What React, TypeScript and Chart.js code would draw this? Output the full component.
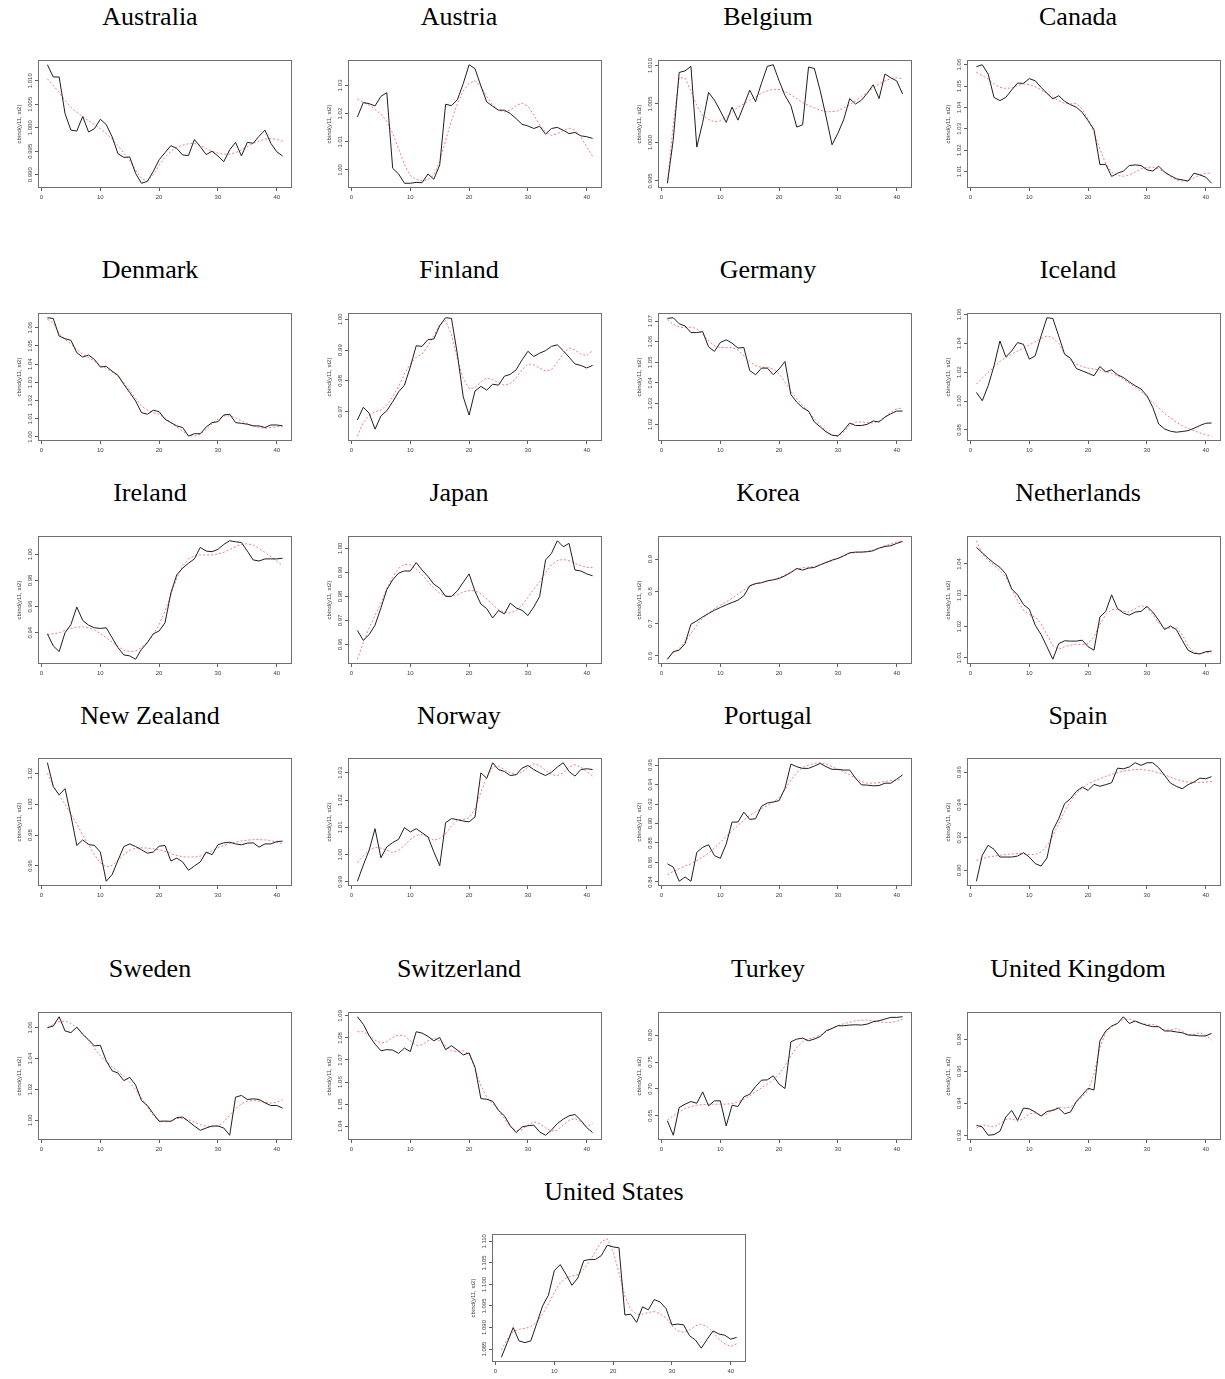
import React, { useEffect, useRef } from "react";
import { Chart, registerables } from "chart.js";

Chart.register(...registerables);

// ---------- shared axis data ----------
const periods = [1, 2, 3, 4, 5, 6, 7, 8, 9, 10, 11, 12, 13, 14, 15, 16, 17, 18, 19, 20, 21, 22, 23, 24, 25, 26, 27, 28, 29, 30, 31, 32, 33, 34, 35, 36, 37, 38, 39, 40, 41];
const xTickValues = [0, 10, 20, 30, 40];
const yAxisTitle = "cbind(y11, st2)";

// ---------- series (black = observed, red dashed = smoothed) ----------
const australiaObserved = [1.0134, 1.0108, 1.0108, 1.0030, 0.9995, 0.9993, 1.0024, 0.9991, 0.9998, 1.0018, 1.0007, 0.9981, 0.9945, 0.9937, 0.9938, 0.9903, 0.9882, 0.9886, 0.9907, 0.9932, 0.9947, 0.9962, 0.9956, 0.9942, 0.9941, 0.9975, 0.9960, 0.9943, 0.9950, 0.9940, 0.9928, 0.9953, 0.9969, 0.9940, 0.9969, 0.9967, 0.9982, 0.9995, 0.9967, 0.9949, 0.9940];
const australiaSmoothed = [1.0104, 1.0090, 1.0075, 1.0058, 1.0043, 1.0033, 1.0024, 1.0015, 1.0007, 0.9998, 0.9988, 0.9976, 0.9962, 0.9946, 0.9930, 0.9910, 0.9892, 0.9887, 0.9900, 0.9920, 0.9937, 0.9950, 0.9958, 0.9963, 0.9966, 0.9967, 0.9962, 0.9956, 0.9950, 0.9946, 0.9944, 0.9944, 0.9947, 0.9953, 0.9960, 0.9967, 0.9972, 0.9976, 0.9977, 0.9975, 0.9971];
const australiaTicks = ["0.990", "0.995", "1.000", "1.005", "1.010"];

const austriaObserved = [1.0188, 1.0239, 1.0235, 1.0227, 1.0261, 1.0274, 1.0006, 0.9986, 0.9953, 0.9953, 0.9956, 0.9955, 0.9986, 0.9967, 1.0018, 1.0233, 1.0228, 1.0249, 1.0306, 1.0373, 1.0359, 1.0298, 1.0241, 1.0226, 1.0212, 1.0212, 1.0200, 1.0182, 1.0162, 1.0156, 1.0147, 1.0155, 1.0127, 1.0147, 1.0151, 1.0141, 1.0129, 1.0133, 1.0121, 1.0118, 1.0112];
const austriaSmoothed = [1.0251, 1.0240, 1.0230, 1.0215, 1.0198, 1.0172, 1.0130, 1.0075, 1.0020, 0.9980, 0.9966, 0.9962, 0.9966, 0.9982, 1.0030, 1.0105, 1.0175, 1.0235, 1.0280, 1.0308, 1.0316, 1.0295, 1.0260, 1.0229, 1.0212, 1.0206, 1.0212, 1.0228, 1.0237, 1.0226, 1.0195, 1.0160, 1.0135, 1.0123, 1.0128, 1.0140, 1.0148, 1.0141, 1.0118, 1.0082, 1.0049];
const austriaTicks = ["1.00", "1.01", "1.02", "1.03"];

const belgiumObserved = [0.9947, 1.0004, 1.0091, 1.0093, 1.0099, 0.9994, 1.0026, 1.0065, 1.0055, 1.0041, 1.0026, 1.0046, 1.0029, 1.0048, 1.0068, 1.0053, 1.0077, 1.0099, 1.0101, 1.0080, 1.0061, 1.0048, 1.0020, 1.0023, 1.0098, 1.0096, 1.0067, 1.0033, 0.9997, 1.0012, 1.0030, 1.0057, 1.0050, 1.0055, 1.0064, 1.0075, 1.0057, 1.0089, 1.0084, 1.0080, 1.0063];
const belgiumSmoothed = [0.9947, 1.0024, 1.0084, 1.0084, 1.0067, 1.0048, 1.0035, 1.0030, 1.0027, 1.0028, 1.0033, 1.0039, 1.0046, 1.0050, 1.0055, 1.0059, 1.0064, 1.0067, 1.0069, 1.0069, 1.0066, 1.0062, 1.0057, 1.0052, 1.0048, 1.0045, 1.0042, 1.0040, 1.0040, 1.0041, 1.0045, 1.0049, 1.0054, 1.0060, 1.0065, 1.0071, 1.0076, 1.0080, 1.0083, 1.0084, 1.0083];
const belgiumTicks = ["0.995", "1.000", "1.005", "1.010"];

const canadaObserved = [1.0591, 1.0600, 1.0556, 1.0447, 1.0432, 1.0447, 1.0482, 1.0514, 1.0513, 1.0535, 1.0525, 1.0494, 1.0466, 1.0440, 1.0455, 1.0429, 1.0413, 1.0401, 1.0377, 1.0338, 1.0296, 1.0133, 1.0133, 1.0077, 1.0092, 1.0102, 1.0128, 1.0131, 1.0128, 1.0108, 1.0102, 1.0125, 1.0097, 1.0081, 1.0066, 1.0061, 1.0055, 1.0092, 1.0084, 1.0074, 1.0045];
const canadaSmoothed = [1.0564, 1.0549, 1.0533, 1.0510, 1.0494, 1.0489, 1.0491, 1.0503, 1.0510, 1.0507, 1.0497, 1.0482, 1.0466, 1.0447, 1.0432, 1.0419, 1.0416, 1.0419, 1.0393, 1.0346, 1.0284, 1.0206, 1.0136, 1.0097, 1.0081, 1.0078, 1.0084, 1.0097, 1.0112, 1.0120, 1.0120, 1.0112, 1.0097, 1.0077, 1.0061, 1.0055, 1.0058, 1.0070, 1.0084, 1.0092, 1.0092];
const canadaTicks = ["1.01", "1.02", "1.03", "1.04", "1.05", "1.06"];

const denmarkObserved = [1.0655, 1.0651, 1.0554, 1.0540, 1.0531, 1.0463, 1.0439, 1.0450, 1.0426, 1.0384, 1.0388, 1.0362, 1.0339, 1.0289, 1.0244, 1.0198, 1.0134, 1.0125, 1.0147, 1.0139, 1.0097, 1.0079, 1.0061, 1.0052, 1.0005, 1.0018, 1.0018, 1.0055, 1.0079, 1.0084, 1.0121, 1.0125, 1.0079, 1.0075, 1.0070, 1.0061, 1.0061, 1.0052, 1.0066, 1.0066, 1.0061];
const denmarkSmoothed = [1.0646, 1.0627, 1.0567, 1.0536, 1.0512, 1.0481, 1.0454, 1.0435, 1.0417, 1.0393, 1.0377, 1.0357, 1.0333, 1.0298, 1.0256, 1.0212, 1.0170, 1.0147, 1.0134, 1.0125, 1.0106, 1.0079, 1.0055, 1.0033, 1.0009, 1.0004, 1.0015, 1.0042, 1.0073, 1.0097, 1.0116, 1.0116, 1.0106, 1.0088, 1.0073, 1.0061, 1.0052, 1.0048, 1.0052, 1.0057, 1.0061];
const denmarkTicks = ["1.00", "1.01", "1.02", "1.03", "1.04", "1.05", "1.06"];

const finlandObserved = [0.9673, 0.9714, 0.9695, 0.9643, 0.9686, 0.9703, 0.9732, 0.9764, 0.9786, 0.9845, 0.9914, 0.9912, 0.9934, 0.9936, 0.9979, 1.0005, 1.0003, 0.9887, 0.9748, 0.9689, 0.9767, 0.9782, 0.9770, 0.9789, 0.9786, 0.9815, 0.9821, 0.9836, 0.9868, 0.9896, 0.9879, 0.9890, 0.9898, 0.9912, 0.9917, 0.9898, 0.9877, 0.9855, 0.9850, 0.9842, 0.9850];
const finlandSmoothed = [0.9620, 0.9665, 0.9686, 0.9700, 0.9705, 0.9721, 0.9748, 0.9782, 0.9823, 0.9855, 0.9877, 0.9887, 0.9914, 0.9946, 0.9984, 0.9995, 0.9950, 0.9871, 0.9807, 0.9775, 0.9778, 0.9796, 0.9810, 0.9804, 0.9793, 0.9786, 0.9791, 0.9810, 0.9836, 0.9855, 0.9852, 0.9841, 0.9832, 0.9836, 0.9861, 0.9887, 0.9907, 0.9900, 0.9887, 0.9882, 0.9898];
const finlandTicks = ["0.97", "0.98", "0.99", "1.00"];

const germanyObserved = [1.0713, 1.0716, 1.0687, 1.0676, 1.0644, 1.0644, 1.0649, 1.0575, 1.0553, 1.0596, 1.0609, 1.0593, 1.0569, 1.0572, 1.0460, 1.0440, 1.0472, 1.0472, 1.0440, 1.0468, 1.0504, 1.0344, 1.0307, 1.0280, 1.0264, 1.0211, 1.0187, 1.0163, 1.0147, 1.0144, 1.0171, 1.0206, 1.0194, 1.0194, 1.0200, 1.0216, 1.0211, 1.0235, 1.0251, 1.0264, 1.0264];
const germanySmoothed = [1.0708, 1.0684, 1.0671, 1.0668, 1.0671, 1.0663, 1.0636, 1.0604, 1.0580, 1.0572, 1.0572, 1.0572, 1.0559, 1.0532, 1.0504, 1.0484, 1.0476, 1.0476, 1.0468, 1.0444, 1.0404, 1.0360, 1.0323, 1.0291, 1.0259, 1.0227, 1.0195, 1.0168, 1.0147, 1.0142, 1.0163, 1.0195, 1.0211, 1.0211, 1.0208, 1.0206, 1.0216, 1.0235, 1.0259, 1.0275, 1.0279];
const germanyTicks = ["1.02", "1.03", "1.04", "1.05", "1.06", "1.07"];

const icelandObserved = [1.0060, 1.0002, 1.0106, 1.0244, 1.0416, 1.0306, 1.0347, 1.0405, 1.0393, 1.0290, 1.0313, 1.0451, 1.0577, 1.0572, 1.0451, 1.0324, 1.0297, 1.0225, 1.0209, 1.0193, 1.0175, 1.0239, 1.0202, 1.0216, 1.0182, 1.0163, 1.0133, 1.0106, 1.0083, 1.0037, 0.9956, 0.9841, 0.9807, 0.9791, 0.9784, 0.9789, 0.9795, 0.9811, 0.9830, 0.9846, 0.9848];
const icelandSmoothed = [1.0117, 1.0159, 1.0198, 1.0237, 1.0274, 1.0301, 1.0324, 1.0347, 1.0366, 1.0389, 1.0411, 1.0432, 1.0451, 1.0439, 1.0398, 1.0329, 1.0283, 1.0255, 1.0239, 1.0228, 1.0221, 1.0214, 1.0205, 1.0191, 1.0175, 1.0152, 1.0124, 1.0094, 1.0064, 1.0030, 0.9991, 0.9952, 0.9915, 0.9883, 0.9853, 0.9830, 0.9811, 0.9795, 0.9779, 0.9768, 0.9756];
const icelandTicks = ["0.98", "1.00", "1.02", "1.04", "1.06"];

const irelandObserved = [0.9392, 0.9299, 0.9256, 0.9400, 0.9463, 0.9597, 0.9494, 0.9458, 0.9438, 0.9433, 0.9438, 0.9362, 0.9286, 0.9230, 0.9223, 0.9197, 0.9273, 0.9324, 0.9392, 0.9413, 0.9476, 0.9704, 0.9843, 0.9894, 0.9932, 0.9965, 1.0053, 1.0025, 1.0020, 1.0038, 1.0076, 1.0104, 1.0096, 1.0091, 1.0025, 0.9957, 0.9949, 0.9965, 0.9965, 0.9965, 0.9970];
const irelandSmoothed = [0.9387, 0.9392, 0.9400, 0.9418, 0.9433, 0.9443, 0.9446, 0.9438, 0.9420, 0.9395, 0.9362, 0.9329, 0.9294, 0.9266, 0.9256, 0.9261, 0.9286, 0.9329, 0.9387, 0.9463, 0.9565, 0.9691, 0.9818, 0.9911, 0.9965, 0.9987, 0.9995, 0.9995, 0.9995, 1.0003, 1.0015, 1.0038, 1.0058, 1.0076, 1.0081, 1.0071, 1.0046, 1.0015, 0.9982, 0.9949, 0.9914];
const irelandTicks = ["0.94", "0.96", "0.98", "1.00"];

const japanObserved = [0.9658, 0.9617, 0.9641, 0.9680, 0.9752, 0.9828, 0.9869, 0.9897, 0.9906, 0.9906, 0.9941, 0.9910, 0.9883, 0.9851, 0.9834, 0.9800, 0.9800, 0.9823, 0.9859, 0.9894, 0.9821, 0.9768, 0.9749, 0.9710, 0.9741, 0.9727, 0.9772, 0.9752, 0.9742, 0.9720, 0.9756, 0.9800, 0.9952, 0.9979, 1.0032, 1.0007, 1.0021, 0.9910, 0.9906, 0.9894, 0.9886];
const japanSmoothed = [0.9538, 0.9607, 0.9669, 0.9721, 0.9772, 0.9834, 0.9879, 0.9917, 0.9934, 0.9931, 0.9914, 0.9890, 0.9862, 0.9834, 0.9814, 0.9803, 0.9800, 0.9807, 0.9818, 0.9825, 0.9823, 0.9811, 0.9790, 0.9766, 0.9745, 0.9734, 0.9731, 0.9741, 0.9763, 0.9796, 0.9830, 0.9862, 0.9899, 0.9931, 0.9949, 0.9954, 0.9949, 0.9938, 0.9928, 0.9921, 0.9920];
const japanTicks = ["0.96", "0.97", "0.98", "0.99", "1.00"];

const koreaObserved = [0.5898, 0.6135, 0.6177, 0.6384, 0.6983, 0.7087, 0.7211, 0.7314, 0.7418, 0.7500, 0.7583, 0.7656, 0.7728, 0.7862, 0.8173, 0.8245, 0.8266, 0.8328, 0.8359, 0.8400, 0.8483, 0.8586, 0.8710, 0.8659, 0.8721, 0.8741, 0.8824, 0.8897, 0.8969, 0.9021, 0.9103, 0.9196, 0.9217, 0.9217, 0.9228, 0.9259, 0.9341, 0.9393, 0.9414, 0.9486, 0.9548];
const koreaSmoothed = [0.5898, 0.6104, 0.6229, 0.6435, 0.6694, 0.6963, 0.7170, 0.7325, 0.7459, 0.7573, 0.7676, 0.7790, 0.7914, 0.8038, 0.8152, 0.8224, 0.8276, 0.8307, 0.8359, 0.8431, 0.8504, 0.8597, 0.8690, 0.8731, 0.8752, 0.8772, 0.8824, 0.8886, 0.8948, 0.9021, 0.9093, 0.9176, 0.9207, 0.9217, 0.9238, 0.9279, 0.9341, 0.9414, 0.9465, 0.9527, 0.9569];
const koreaTicks = ["0.6", "0.7", "0.8", "0.9"];

const netherlandsObserved = [1.0453, 1.0435, 1.0418, 1.0402, 1.0389, 1.0368, 1.0320, 1.0301, 1.0270, 1.0255, 1.0204, 1.0174, 1.0135, 1.0095, 1.0145, 1.0154, 1.0153, 1.0153, 1.0156, 1.0135, 1.0124, 1.0230, 1.0248, 1.0301, 1.0257, 1.0243, 1.0236, 1.0246, 1.0248, 1.0264, 1.0246, 1.0220, 1.0190, 1.0201, 1.0190, 1.0156, 1.0124, 1.0114, 1.0112, 1.0119, 1.0121];
const netherlandsSmoothed = [1.0474, 1.0432, 1.0411, 1.0395, 1.0379, 1.0358, 1.0320, 1.0283, 1.0252, 1.0238, 1.0230, 1.0209, 1.0174, 1.0138, 1.0127, 1.0135, 1.0140, 1.0143, 1.0142, 1.0145, 1.0167, 1.0207, 1.0238, 1.0254, 1.0255, 1.0248, 1.0246, 1.0257, 1.0267, 1.0260, 1.0238, 1.0211, 1.0195, 1.0195, 1.0196, 1.0174, 1.0138, 1.0117, 1.0113, 1.0117, 1.0114];
const netherlandsTicks = ["1.01", "1.02", "1.03", "1.04"];

const newZealandObserved = [1.0269, 1.0114, 1.0061, 1.0101, 0.9926, 0.9733, 0.9769, 0.9739, 0.9733, 0.9690, 0.9501, 0.9544, 0.9636, 0.9726, 0.9743, 0.9726, 0.9705, 0.9683, 0.9690, 0.9728, 0.9733, 0.9632, 0.9651, 0.9626, 0.9572, 0.9600, 0.9626, 0.9690, 0.9673, 0.9737, 0.9750, 0.9754, 0.9743, 0.9737, 0.9748, 0.9750, 0.9722, 0.9743, 0.9743, 0.9758, 0.9761];
const newZealandSmoothed = [1.0200, 1.0119, 1.0054, 1.0001, 0.9936, 0.9872, 0.9801, 0.9737, 0.9673, 0.9621, 0.9593, 0.9604, 0.9636, 0.9673, 0.9701, 0.9716, 0.9718, 0.9716, 0.9711, 0.9705, 0.9694, 0.9681, 0.9668, 0.9660, 0.9658, 0.9658, 0.9664, 0.9679, 0.9698, 0.9718, 0.9733, 0.9746, 0.9754, 0.9763, 0.9767, 0.9771, 0.9771, 0.9769, 0.9765, 0.9754, 0.9743];
const newZealandTicks = ["0.96", "0.98", "1.00", "1.02"];

const norwayObserved = [0.9902, 0.9961, 1.0016, 1.0095, 0.9988, 1.0028, 1.0044, 1.0056, 1.0099, 1.0083, 1.0095, 1.0080, 1.0065, 1.0010, 0.9959, 1.0117, 1.0132, 1.0128, 1.0123, 1.0120, 1.0138, 1.0300, 1.0280, 1.0337, 1.0312, 1.0305, 1.0290, 1.0293, 1.0317, 1.0327, 1.0312, 1.0300, 1.0290, 1.0302, 1.0321, 1.0337, 1.0305, 1.0288, 1.0312, 1.0315, 1.0312];
const norwaySmoothed = [0.9971, 0.9995, 1.0016, 1.0026, 1.0024, 1.0016, 1.0007, 1.0016, 1.0034, 1.0055, 1.0071, 1.0073, 1.0065, 1.0052, 1.0059, 1.0077, 1.0105, 1.0126, 1.0129, 1.0134, 1.0168, 1.0229, 1.0284, 1.0321, 1.0324, 1.0312, 1.0300, 1.0293, 1.0302, 1.0321, 1.0333, 1.0327, 1.0309, 1.0293, 1.0290, 1.0300, 1.0321, 1.0330, 1.0321, 1.0305, 1.0288];
const norwayTicks = ["0.99", "1.00", "1.01", "1.02", "1.03"];

const portugalObserved = [0.8586, 0.8552, 0.8407, 0.8451, 0.8407, 0.8704, 0.8755, 0.8782, 0.8670, 0.8643, 0.8789, 0.9015, 0.9015, 0.9117, 0.9042, 0.9049, 0.9177, 0.9211, 0.9221, 0.9235, 0.9363, 0.9610, 0.9583, 0.9566, 0.9566, 0.9590, 0.9617, 0.9583, 0.9556, 0.9556, 0.9549, 0.9549, 0.9465, 0.9397, 0.9394, 0.9387, 0.9390, 0.9414, 0.9414, 0.9455, 0.9499];
const portugalSmoothed = [0.8474, 0.8508, 0.8535, 0.8562, 0.8586, 0.8620, 0.8654, 0.8697, 0.8748, 0.8806, 0.8866, 0.8924, 0.8981, 0.9035, 0.9083, 0.9120, 0.9154, 0.9184, 0.9218, 0.9269, 0.9346, 0.9448, 0.9522, 0.9576, 0.9600, 0.9617, 0.9624, 0.9610, 0.9583, 0.9556, 0.9532, 0.9499, 0.9465, 0.9431, 0.9414, 0.9414, 0.9421, 0.9431, 0.9441, 0.9448, 0.9448];
const portugalTicks = ["0.84", "0.86", "0.88", "0.90", "0.92", "0.94", "0.96"];

const spainObserved = [0.8933, 0.9092, 0.9153, 0.9128, 0.9081, 0.9081, 0.9081, 0.9087, 0.9108, 0.9081, 0.9041, 0.9026, 0.9075, 0.9244, 0.9315, 0.9407, 0.9437, 0.9482, 0.9508, 0.9488, 0.9525, 0.9513, 0.9523, 0.9535, 0.9624, 0.9620, 0.9631, 0.9657, 0.9641, 0.9657, 0.9657, 0.9626, 0.9580, 0.9533, 0.9513, 0.9498, 0.9523, 0.9539, 0.9563, 0.9559, 0.9572];
const spainSmoothed = [0.9061, 0.9071, 0.9081, 0.9087, 0.9092, 0.9096, 0.9100, 0.9102, 0.9100, 0.9096, 0.9096, 0.9112, 0.9149, 0.9210, 0.9285, 0.9360, 0.9421, 0.9468, 0.9502, 0.9529, 0.9545, 0.9559, 0.9574, 0.9586, 0.9596, 0.9606, 0.9612, 0.9616, 0.9616, 0.9612, 0.9606, 0.9596, 0.9584, 0.9569, 0.9555, 0.9545, 0.9539, 0.9537, 0.9537, 0.9539, 0.9543];
const spainTicks = ["0.90", "0.92", "0.94", "0.96"];

const swedenObserved = [1.0600, 1.0611, 1.0671, 1.0579, 1.0568, 1.0604, 1.0557, 1.0521, 1.0482, 1.0486, 1.0386, 1.0321, 1.0306, 1.0257, 1.0278, 1.0229, 1.0128, 1.0096, 1.0043, 0.9993, 0.9995, 0.9993, 1.0017, 1.0021, 0.9993, 0.9963, 0.9935, 0.9950, 0.9963, 0.9963, 0.9950, 0.9903, 1.0150, 1.0161, 1.0135, 1.0139, 1.0135, 1.0113, 1.0096, 1.0096, 1.0079];
const swedenSmoothed = [1.0600, 1.0621, 1.0639, 1.0643, 1.0628, 1.0600, 1.0564, 1.0519, 1.0467, 1.0418, 1.0379, 1.0347, 1.0317, 1.0285, 1.0246, 1.0199, 1.0143, 1.0086, 1.0032, 1.0000, 0.9989, 0.9995, 1.0011, 1.0011, 1.0004, 0.9989, 0.9972, 0.9963, 0.9957, 0.9963, 0.9989, 1.0032, 1.0075, 1.0107, 1.0124, 1.0128, 1.0124, 1.0118, 1.0111, 1.0118, 1.0133];
const swedenTicks = ["1.00", "1.02", "1.04", "1.06"];

const switzerlandObserved = [1.0896, 1.0862, 1.0810, 1.0772, 1.0742, 1.0747, 1.0745, 1.0730, 1.0754, 1.0738, 1.0828, 1.0822, 1.0807, 1.0787, 1.0802, 1.0747, 1.0765, 1.0745, 1.0723, 1.0732, 1.0667, 1.0525, 1.0522, 1.0513, 1.0472, 1.0447, 1.0402, 1.0371, 1.0397, 1.0402, 1.0405, 1.0374, 1.0359, 1.0382, 1.0412, 1.0432, 1.0447, 1.0453, 1.0427, 1.0394, 1.0371];
const switzerlandSmoothed = [1.0828, 1.0828, 1.0813, 1.0790, 1.0777, 1.0783, 1.0802, 1.0813, 1.0810, 1.0787, 1.0765, 1.0769, 1.0787, 1.0799, 1.0787, 1.0765, 1.0742, 1.0738, 1.0742, 1.0727, 1.0660, 1.0585, 1.0532, 1.0502, 1.0472, 1.0435, 1.0397, 1.0379, 1.0385, 1.0405, 1.0420, 1.0412, 1.0392, 1.0377, 1.0382, 1.0405, 1.0427, 1.0435, 1.0420, 1.0397, 1.0412];
const switzerlandTicks = ["1.04", "1.05", "1.06", "1.07", "1.08", "1.09"];

const turkeyObserved = [0.6407, 0.6140, 0.6655, 0.6717, 0.6766, 0.6735, 0.6946, 0.6686, 0.6779, 0.6779, 0.6314, 0.6698, 0.6673, 0.6853, 0.6903, 0.7045, 0.7163, 0.7169, 0.7244, 0.7089, 0.7008, 0.7876, 0.7926, 0.7944, 0.7895, 0.7926, 0.7975, 0.8081, 0.8124, 0.8174, 0.8174, 0.8186, 0.8192, 0.8186, 0.8205, 0.8248, 0.8267, 0.8298, 0.8329, 0.8329, 0.8341];
const turkeySmoothed = [0.6425, 0.6500, 0.6574, 0.6636, 0.6673, 0.6698, 0.6710, 0.6717, 0.6717, 0.6717, 0.6717, 0.6729, 0.6760, 0.6810, 0.6872, 0.6946, 0.7021, 0.7089, 0.7163, 0.7275, 0.7430, 0.7616, 0.7771, 0.7876, 0.7926, 0.7957, 0.8000, 0.8062, 0.8124, 0.8174, 0.8211, 0.8236, 0.8267, 0.8279, 0.8279, 0.8267, 0.8248, 0.8236, 0.8236, 0.8254, 0.8298];
const turkeyTicks = ["0.65", "0.70", "0.75", "0.80"];

const unitedKingdomObserved = [0.9262, 0.9252, 0.9200, 0.9204, 0.9225, 0.9314, 0.9355, 0.9293, 0.9370, 0.9365, 0.9345, 0.9320, 0.9349, 0.9355, 0.9370, 0.9334, 0.9345, 0.9411, 0.9452, 0.9494, 0.9483, 0.9790, 0.9852, 0.9883, 0.9899, 0.9941, 0.9899, 0.9914, 0.9899, 0.9887, 0.9879, 0.9879, 0.9852, 0.9852, 0.9846, 0.9841, 0.9827, 0.9825, 0.9821, 0.9821, 0.9837];
const unitedKingdomSmoothed = [0.9245, 0.9266, 0.9258, 0.9252, 0.9272, 0.9299, 0.9303, 0.9287, 0.9303, 0.9334, 0.9339, 0.9324, 0.9334, 0.9361, 0.9376, 0.9370, 0.9376, 0.9407, 0.9438, 0.9479, 0.9583, 0.9748, 0.9841, 0.9879, 0.9903, 0.9924, 0.9928, 0.9914, 0.9899, 0.9893, 0.9893, 0.9879, 0.9858, 0.9858, 0.9866, 0.9852, 0.9827, 0.9831, 0.9841, 0.9825, 0.9796];
const unitedKingdomTicks = ["0.92", "0.94", "0.96", "0.98"];

const unitedStatesObserved = [1.0831, 1.0865, 1.0900, 1.0869, 1.0865, 1.0869, 1.0909, 1.0950, 1.0975, 1.1032, 1.1046, 1.1023, 1.0998, 1.1015, 1.1055, 1.1058, 1.1058, 1.1067, 1.1091, 1.1087, 1.1085, 1.0929, 1.0931, 1.0912, 1.0948, 1.0941, 1.0965, 1.0959, 1.0944, 1.0906, 1.0908, 1.0906, 1.0881, 1.0871, 1.0852, 1.0873, 1.0892, 1.0885, 1.0882, 1.0873, 1.0877];
const unitedStatesSmoothed = [1.0848, 1.0873, 1.0891, 1.0896, 1.0898, 1.0902, 1.0912, 1.0931, 1.0955, 1.0981, 1.1004, 1.1015, 1.1019, 1.1023, 1.1035, 1.1054, 1.1077, 1.1099, 1.1106, 1.1077, 1.1027, 1.0973, 1.0942, 1.0931, 1.0931, 1.0935, 1.0937, 1.0932, 1.0922, 1.0904, 1.0892, 1.0889, 1.0894, 1.0904, 1.0908, 1.0902, 1.0889, 1.0873, 1.0862, 1.0856, 1.0862];
const unitedStatesTicks = ["1.085", "1.090", "1.095", "1.100", "1.105", "1.110"];

// ---------- panel list ----------
type PanelData = { name: string; observed: number[]; smoothed: number[]; ticks: string[] };

const panels: PanelData[] = [
  { name: "Australia", observed: australiaObserved, smoothed: australiaSmoothed, ticks: australiaTicks },
  { name: "Austria", observed: austriaObserved, smoothed: austriaSmoothed, ticks: austriaTicks },
  { name: "Belgium", observed: belgiumObserved, smoothed: belgiumSmoothed, ticks: belgiumTicks },
  { name: "Canada", observed: canadaObserved, smoothed: canadaSmoothed, ticks: canadaTicks },
  { name: "Denmark", observed: denmarkObserved, smoothed: denmarkSmoothed, ticks: denmarkTicks },
  { name: "Finland", observed: finlandObserved, smoothed: finlandSmoothed, ticks: finlandTicks },
  { name: "Germany", observed: germanyObserved, smoothed: germanySmoothed, ticks: germanyTicks },
  { name: "Iceland", observed: icelandObserved, smoothed: icelandSmoothed, ticks: icelandTicks },
  { name: "Ireland", observed: irelandObserved, smoothed: irelandSmoothed, ticks: irelandTicks },
  { name: "Japan", observed: japanObserved, smoothed: japanSmoothed, ticks: japanTicks },
  { name: "Korea", observed: koreaObserved, smoothed: koreaSmoothed, ticks: koreaTicks },
  { name: "Netherlands", observed: netherlandsObserved, smoothed: netherlandsSmoothed, ticks: netherlandsTicks },
  { name: "New Zealand", observed: newZealandObserved, smoothed: newZealandSmoothed, ticks: newZealandTicks },
  { name: "Norway", observed: norwayObserved, smoothed: norwaySmoothed, ticks: norwayTicks },
  { name: "Portugal", observed: portugalObserved, smoothed: portugalSmoothed, ticks: portugalTicks },
  { name: "Spain", observed: spainObserved, smoothed: spainSmoothed, ticks: spainTicks },
  { name: "Sweden", observed: swedenObserved, smoothed: swedenSmoothed, ticks: swedenTicks },
  { name: "Switzerland", observed: switzerlandObserved, smoothed: switzerlandSmoothed, ticks: switzerlandTicks },
  { name: "Turkey", observed: turkeyObserved, smoothed: turkeySmoothed, ticks: turkeyTicks },
  { name: "United Kingdom", observed: unitedKingdomObserved, smoothed: unitedKingdomSmoothed, ticks: unitedKingdomTicks },
  { name: "United States", observed: unitedStatesObserved, smoothed: unitedStatesSmoothed, ticks: unitedStatesTicks },
];

// ---------- layout ----------
const BOX_W = 254;
const BOX_H = 128;
const PAD_L = 30;
const PAD_T = 4;
const PAD_R = 4;
const PAD_B = 18;
const colBoxLeft = [38, 348, 658, 967];
const colTitleX = [150, 459, 768, 1078];
const rowBoxTop = [60, 313, 536, 758, 1012, 1234];
const rowTitleY = [17, 270, 493, 716, 969, 1192];
const lastBoxLeft = 492;
const lastTitleX = 614;

const tickFont = '"Liberation Sans", Arial, sans-serif';

function Panel({ p, boxLeft, boxTop, titleX, titleY }: { p: PanelData; boxLeft: number; boxTop: number; titleX: number; titleY: number }) {
  const ref = useRef<HTMLCanvasElement | null>(null);

  useEffect(() => {
    const canvas = ref.current;
    if (!canvas) return;
    const all = [...p.observed, ...p.smoothed];
    const lo = Math.min(...all);
    const hi = Math.max(...all);
    const pad = (hi - lo) * 0.04;
    const yMin = lo - pad;
    const yMax = hi + pad;
    const tickVals = p.ticks.map(Number).filter((v) => v >= yMin && v <= yMax);

    const framePlugin = {
      id: "rFrame",
      afterDraw(chart: any) {
        const { ctx, chartArea: a, scales } = chart;
        const ys = scales.y;
        ctx.save();
        ctx.strokeStyle = "#707070";
        ctx.lineWidth = 1;
        ctx.strokeRect(a.left + 0.5, a.top + 0.5, a.right - a.left - 1, a.bottom - a.top - 1);
        ctx.fillStyle = "#404040";
        ctx.font = `6px ${tickFont}`;
        ctx.textAlign = "center";
        ctx.textBaseline = "alphabetic";
        p.ticks.forEach((label) => {
          const v = Number(label);
          if (v < yMin || v > yMax) return;
          const y = ys.getPixelForValue(v);
          ctx.save();
          ctx.translate(a.left - 6, y);
          ctx.rotate(-Math.PI / 2);
          ctx.fillText(label, 0, 0);
          ctx.restore();
        });
        ctx.save();
        ctx.translate(a.left - 19, (a.top + a.bottom) / 2);
        ctx.rotate(-Math.PI / 2);
        ctx.textBaseline = "middle";
        ctx.fillText(yAxisTitle, 0, 0);
        ctx.restore();
        ctx.restore();
      },
    };

    const chart = new Chart(canvas, {
      type: "line",
      data: {
        datasets: [
          {
            data: periods.map((x, i) => ({ x, y: p.observed[i] })),
            borderColor: "#1e1e1e",
            borderWidth: 1,
            pointRadius: 0,
            tension: 0,
            fill: false,
          },
          {
            data: periods.map((x, i) => ({ x, y: p.smoothed[i] })),
            borderColor: "rgba(255, 30, 30, 0.6)",
            borderWidth: 1,
            borderDash: [2, 2],
            pointRadius: 0,
            tension: 0,
            fill: false,
          },
        ],
      },
      options: {
        animation: false,
        responsive: false,
        maintainAspectRatio: false,
        events: [],
        layout: { padding: { top: PAD_T, right: PAD_R, left: 0, bottom: 0 } },
        plugins: { legend: { display: false }, tooltip: { enabled: false }, title: { display: false } },
        scales: {
          x: {
            type: "linear",
            min: -0.6,
            max: 42.6,
            afterBuildTicks: (s: any) => {
              s.ticks = xTickValues.map((v) => ({ value: v }));
            },
            afterFit: (s: any) => {
              s.height = PAD_B;
            },
            grid: { display: true, drawOnChartArea: false, drawTicks: true, tickLength: 3, color: "#606060", lineWidth: 1 },
            border: { display: false },
            ticks: {
              autoSkip: false,
              maxRotation: 0,
              minRotation: 0,
              padding: 3,
              color: "#404040",
              font: { size: 6, family: tickFont },
              callback: (v: any) => String(v),
            },
          },
          y: {
            type: "linear",
            min: yMin,
            max: yMax,
            afterBuildTicks: (s: any) => {
              s.ticks = tickVals.map((v) => ({ value: v }));
            },
            afterFit: (s: any) => {
              s.width = PAD_L;
            },
            grid: { display: true, drawOnChartArea: false, drawTicks: true, tickLength: 3, color: "#606060", lineWidth: 1 },
            border: { display: false },
            ticks: { display: false },
          },
        },
      },
      plugins: [framePlugin],
    } as any);
    return () => chart.destroy();
  }, [p]);

  const cw = PAD_L + BOX_W + PAD_R;
  const ch = PAD_T + BOX_H + PAD_B;
  return (
    <>
      <div
        style={{
          position: "absolute",
          left: titleX - 150,
          top: titleY - 15,
          width: 300,
          height: 30,
          lineHeight: "30px",
          textAlign: "center",
          fontFamily: '"Liberation Serif", "Times New Roman", serif',
          fontSize: 26,
          color: "#000",
          whiteSpace: "nowrap",
        }}
      >
        {p.name}
      </div>
      <canvas
        ref={ref}
        width={cw}
        height={ch}
        style={{ position: "absolute", left: boxLeft - PAD_L, top: boxTop - PAD_T, width: cw, height: ch }}
      />
    </>
  );
}

export default function App() {
  return (
    <div style={{ position: "absolute", left: 0, top: 0, width: 1225, height: 1379, background: "#ffffff", overflow: "hidden" }}>
      {panels.map((p, i) => {
        const isLast = i === 20;
        const row = Math.floor(i / 4);
        const col = i % 4;
        return (
          <Panel
            key={p.name}
            p={p}
            boxLeft={isLast ? lastBoxLeft : colBoxLeft[col]}
            boxTop={rowBoxTop[row]}
            titleX={isLast ? lastTitleX : colTitleX[col]}
            titleY={rowTitleY[row]}
          />
        );
      })}
    </div>
  );
}
